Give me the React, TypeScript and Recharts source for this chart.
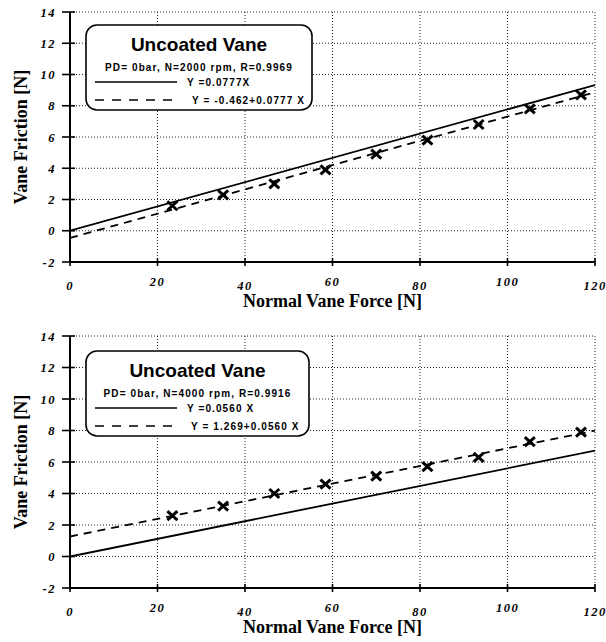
import { ComposedChart, XAxis, YAxis, CartesianGrid, Line, Scatter, Customized } from 'recharts'

const forceTicks = [0, 20, 40, 60, 80, 100, 120]
const frictionTicks = [-2, 0, 2, 4, 6, 8, 10, 12, 14]

// measured points, shared normal force steps
const normalForce = [23.4, 35.0, 46.7, 58.4, 70.0, 81.7, 93.4, 105.1, 116.8]
const friction2000 = [1.6, 2.3, 3.0, 3.9, 4.9, 5.8, 6.8, 7.8, 8.7]
const friction4000 = [2.6, 3.2, 4.0, 4.6, 5.1, 5.7, 6.3, 7.3, 7.9]

// fitted coefficients as printed in each legend
const slope2000 = 0.0777
const intercept2000 = -0.462
const slope4000 = 0.056
const intercept4000 = 1.269

const subtitle2000 = 'PD= 0bar, N=2000 rpm, R=0.9969'
const subtitle4000 = 'PD= 0bar, N=4000 rpm, R=0.9916'
const eqs2000 = ['Y =0.0777X', 'Y = -0.462+0.0777 X']
const eqs4000 = ['Y =0.0560 X', 'Y = 1.269+0.0560 X']

const serif = '"Liberation Serif", "Times New Roman", serif'
const sans = '"Liberation Sans", Arial, sans-serif'
const tickFont = { fontFamily: serif, fontSize: 12.5, fontWeight: 700, fontStyle: 'italic', letterSpacing: 1.5 }
const DASH = '8 6'

const toPoints = (ys: number[]) => normalForce.map((x, i) => ({ x, y: ys[i] }))
const fitLine = (slope: number, intercept: number) =>
  [0, 120].map((x) => ({ x, y: intercept + slope * x }))

const BottomTick = (props: any) => {
  const { x, y, payload, index } = props
  const dy = index % 2 === 0 ? 28 : 24
  return (
    <g>
      <line x1={x} x2={x} y1={y - 4} y2={y + 4} stroke="#000" strokeWidth={1.6} />
      <text x={x} y={y + dy} textAnchor="middle" style={tickFont} fill="#000">{payload.value}</text>
    </g>
  )
}

const TopTick = (props: any) => {
  const { x, y } = props
  return <line x1={x} x2={x} y1={y} y2={y + 4} stroke="#000" strokeWidth={1.6} />
}

const LeftTick = (props: any) => {
  const { x, y, payload } = props
  return (
    <g>
      <line x1={x - 8} x2={x + 5} y1={y} y2={y} stroke="#000" strokeWidth={1.6} />
      <text x={x - 14} y={y + 4.5} textAnchor="end" style={tickFont} fill="#000">{payload.value}</text>
    </g>
  )
}

const RightTick = (props: any) => {
  const { x, y } = props
  return <line x1={x - 6} x2={x} y1={y} y2={y} stroke="#000" strokeWidth={1.6} />
}

const Cross = (props: any) => {
  const { cx, cy } = props
  if (cx == null || cy == null) return null
  return (
    <g stroke="#000" strokeWidth={3}>
      <line x1={cx - 5} y1={cy - 4.5} x2={cx + 5} y2={cy + 4.5} />
      <line x1={cx - 5} y1={cy + 4.5} x2={cx + 5} y2={cy - 4.5} />
    </g>
  )
}

const YTitle = (props: any) => {
  const { viewBox } = props
  const cx = viewBox.x + 21
  const cy = viewBox.y + viewBox.height / 2
  return (
    <text x={cx} y={cy} transform={`rotate(-90 ${cx} ${cy})`} textAnchor="middle" dominantBaseline="central"
      style={{ fontFamily: serif, fontSize: 18, fontWeight: 700 }} fill="#000">
      Vane Friction [N]
    </text>
  )
}

const XTitle = (props: any) => {
  const { viewBox } = props
  return (
    <text x={viewBox.x + viewBox.width / 2} y={viewBox.y + 45} textAnchor="middle"
      style={{ fontFamily: serif, fontSize: 18, fontWeight: 700 }} fill="#000">
      Normal Vane Force [N]
    </text>
  )
}

interface BoxProps {
  top: number
  width: number
  subtitle: string
  eqs: string[]
  eqX: number[]
}

const FitLegend = ({ top, width, subtitle, eqs, eqX }: BoxProps) => {
  const left = 86
  const small = { fontFamily: sans, fontSize: 10, fontWeight: 700, letterSpacing: 1.1 }
  return (
    <g>
      <rect x={left} y={top} width={width} height={85} rx={11} ry={11} fill="#fff" stroke="#000" strokeWidth={1.6} />
      <text x={left + width / 2} y={top + 26} textAnchor="middle"
        style={{ fontFamily: sans, fontSize: 19, fontWeight: 700 }} fill="#000">Uncoated Vane</text>
      <text x={left + width / 2} y={top + 46} textAnchor="middle" style={small} fill="#000">{subtitle}</text>
      <line x1={95} x2={177} y1={top + 57} y2={top + 57} stroke="#000" strokeWidth={1.6} />
      <text x={eqX[0]} y={top + 61} style={small} fill="#000">{eqs[0]}</text>
      <line x1={95} x2={177} y1={top + 75} y2={top + 75} stroke="#000" strokeWidth={1.6} strokeDasharray="9 8" />
      <text x={eqX[1]} y={top + 79} style={small} fill="#000">{eqs[1]}</text>
    </g>
  )
}

interface PanelProps {
  height: number
  marginTop: number
  axisHeight: number
  points: { x: number, y: number }[]
  slope: number
  intercept: number
  legend: BoxProps
}

const Panel = ({ height, marginTop, axisHeight, points, slope, intercept, legend }: PanelProps) => (
  <ComposedChart width={606} height={height} margin={{ top: marginTop, right: 11, bottom: 0, left: 0 }}>
    <CartesianGrid stroke="#222" strokeDasharray="1 2" strokeWidth={1}
      horizontalValues={frictionTicks} verticalValues={forceTicks} />
    <XAxis xAxisId={0} dataKey="x" type="number" domain={[0, 120]} ticks={forceTicks} interval={0}
      allowDataOverflow height={axisHeight} tickSize={0} tickMargin={0} tickLine={false}
      axisLine={{ stroke: '#000', strokeWidth: 2 }} tick={<BottomTick />} label={<XTitle />} />
    <XAxis xAxisId="top" orientation="top" dataKey="x" type="number" domain={[0, 120]} ticks={forceTicks}
      interval={0} allowDataOverflow height={0} tickSize={0} tickMargin={0} tickLine={false}
      axisLine={{ stroke: '#000', strokeWidth: 2 }} tick={<TopTick />} />
    <YAxis yAxisId={0} dataKey="y" type="number" domain={[-2, 14]} ticks={frictionTicks} interval={0}
      allowDataOverflow width={70} tickSize={0} tickMargin={0} tickLine={false}
      axisLine={{ stroke: '#000', strokeWidth: 2 }} tick={<LeftTick />} label={<YTitle />} />
    <YAxis yAxisId="right" orientation="right" dataKey="y" type="number" domain={[-2, 14]} ticks={frictionTicks}
      interval={0} allowDataOverflow width={0} tickSize={0} tickMargin={0} tickLine={false}
      axisLine={{ stroke: '#000', strokeWidth: 2 }} tick={<RightTick />} />
    <Customized component={<FitLegend {...legend} />} />
    <Line data={fitLine(slope, 0)} dataKey="y" stroke="#000" strokeWidth={1.8} dot={false}
      isAnimationActive={false} legendType="none" />
    <Line data={fitLine(slope, intercept)} dataKey="y" stroke="#000" strokeWidth={1.8} strokeDasharray={DASH}
      dot={false} isAnimationActive={false} legendType="none" />
    <Scatter data={points} dataKey="y" shape={<Cross />} isAnimationActive={false} />
  </ComposedChart>
)

export default function App () {
  return (
    <div style={{ position: 'absolute', left: 0, top: 0, width: 606, height: 642, background: '#fff' }}>
      <Panel height={320} marginTop={12} axisHeight={58} points={toPoints(friction2000)}
        slope={slope2000} intercept={intercept2000}
        legend={{ top: 25, width: 226, subtitle: subtitle2000, eqs: eqs2000, eqX: [187, 192] }} />
      <Panel height={322} marginTop={16} axisHeight={54} points={toPoints(friction4000)}
        slope={slope4000} intercept={intercept4000}
        legend={{ top: 31, width: 223, subtitle: subtitle4000, eqs: eqs4000, eqX: [187, 191] }} />
    </div>
  )
}
